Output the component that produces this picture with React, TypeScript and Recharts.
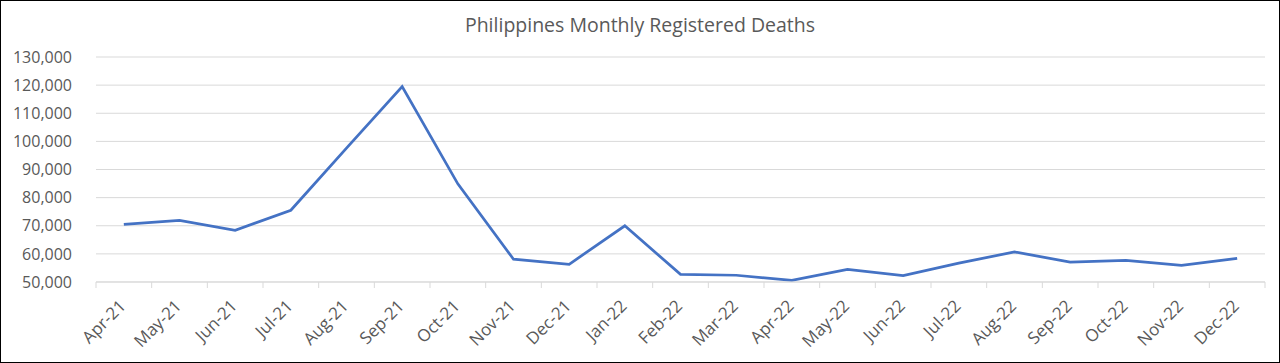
import React from 'react';
import { LineChart, Line, XAxis, YAxis, CartesianGrid } from 'recharts';

const months = [
  'Apr-21', 'May-21', 'Jun-21', 'Jul-21', 'Aug-21', 'Sep-21', 'Oct-21', 'Nov-21', 'Dec-21',
  'Jan-22', 'Feb-22', 'Mar-22', 'Apr-22', 'May-22', 'Jun-22', 'Jul-22', 'Aug-22', 'Sep-22',
  'Oct-22', 'Nov-22', 'Dec-22',
];

const deaths = [
  70500, 71900, 68400, 75500, 97600, 119500, 84900, 58100, 56300,
  70000, 52700, 52400, 50600, 54500, 52300, 56700, 60700, 57100,
  57700, 55900, 58400,
];

const yTicks = [50000, 60000, 70000, 80000, 90000, 100000, 110000, 120000, 130000];

const data = months.map((m, i) => ({ month: m, deaths: deaths[i] }));

const WIDTH = 1280;
const HEIGHT = 363;
const MARGIN = { top: 57, right: 15, left: 0, bottom: 0 };
const Y_AXIS_W = 96;
const X_AXIS_H = 81;
const PLOT_W = WIDTH - MARGIN.left - MARGIN.right - Y_AXIS_W;
const STEP = PLOT_W / months.length;
const AXIS_Y = HEIGHT - MARGIN.bottom - X_AXIS_H;

const FONT = '"Open Sans", sans-serif';
const TEXT_COLOR = '#595959';
const GRID = '#d9d9d9';

// category ticks sit between the months, like Excel
const MonthTick = (props: any) => {
  const { x, payload, index } = props;
  const last = index === months.length - 1;
  return (
    <g>
      <line x1={x - STEP / 2} x2={x - STEP / 2} y1={AXIS_Y} y2={AXIS_Y + 6} stroke={GRID} />
      {last && <line x1={x + STEP / 2} x2={x + STEP / 2} y1={AXIS_Y} y2={AXIS_Y + 6} stroke={GRID} />}
      <text
        transform={`translate(${x + 3},${AXIS_Y + 25}) rotate(-45)`}
        textAnchor="end"
        fill={TEXT_COLOR}
        fontSize={17}
        fontFamily={FONT}
      >
        {payload.value}
      </text>
    </g>
  );
};

export default function App() {
  return (
    <div
      style={{
        position: 'relative',
        width: WIDTH,
        height: HEIGHT,
        boxSizing: 'border-box',
        border: '1px solid #000',
        background: '#fff',
        overflow: 'hidden',
      }}
    >
      <style>{'body{margin:0}'}</style>
      <div
        style={{
          position: 'absolute',
          top: 10,
          left: -1,
          width: WIDTH,
          textAlign: 'center',
          fontFamily: FONT,
          fontSize: 19.5,
          color: TEXT_COLOR,
        }}
      >
        Philippines Monthly Registered Deaths
      </div>
      <div style={{ position: 'absolute', top: -1, left: -1 }}>
        <LineChart width={WIDTH} height={HEIGHT} data={data} margin={MARGIN}>
          <CartesianGrid vertical={false} stroke={GRID} strokeWidth={1} />
          <XAxis
            dataKey="month"
            height={X_AXIS_H}
            stroke={GRID}
            tickLine={false}
            interval={0}
            padding={{ left: STEP / 2, right: STEP / 2 }}
            tick={<MonthTick />}
          />
          <YAxis
            width={Y_AXIS_W}
            domain={[50000, 130000]}
            ticks={yTicks}
            axisLine={false}
            tickLine={false}
            tickSize={0}
            tickMargin={24}
            tickFormatter={(v: number) => v.toLocaleString('en-US')}
            tick={{ fill: TEXT_COLOR, fontSize: 16, fontFamily: FONT }}
          />
          <Line
            type="linear"
            dataKey="deaths"
            stroke="#4472C4"
            strokeWidth={2.75}
            dot={false}
            activeDot={false}
            isAnimationActive={false}
          />
        </LineChart>
      </div>
    </div>
  );
}
